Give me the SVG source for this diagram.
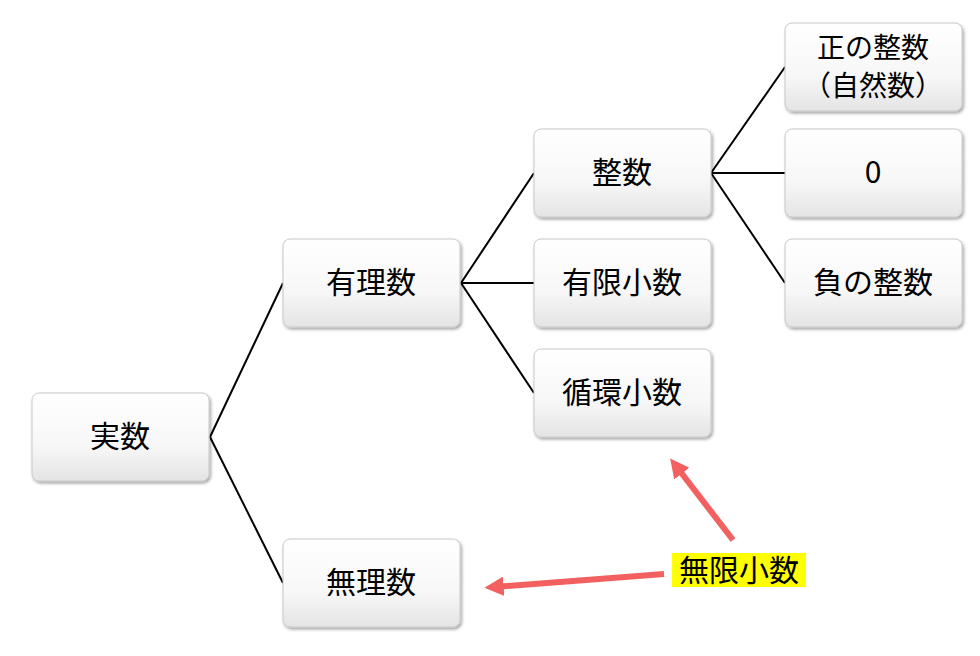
<svg xmlns="http://www.w3.org/2000/svg" width="980" height="656" viewBox="0 0 980 656">
<defs>
<linearGradient id="g" x1="0" y1="0" x2="0" y2="1"><stop offset="0" stop-color="#ffffff"/><stop offset="0.6" stop-color="#f7f7f7"/><stop offset="1" stop-color="#e4e4e4"/></linearGradient>
<filter id="s" x="-10%" y="-10%" width="130%" height="130%"><feDropShadow dx="1.5" dy="2" stdDeviation="1.5" flood-color="#000" flood-opacity="0.35"/></filter>
<marker id="a" viewBox="0 0 10 10" refX="5" refY="5" markerWidth="3.2" markerHeight="3.2" orient="auto"><path d="M0,0 L10,5 L0,10 z" fill="#F26060"/></marker>
<style>
.b{fill:url(#g);stroke:#c8c8c8;stroke-width:1;filter:url(#s)}
.t{font-family:"Noto Sans CJK JP",sans-serif;font-size:30px;text-anchor:middle;dominant-baseline:central;fill:#000}
.c{stroke:#000;stroke-width:2;fill:none}
.r{stroke:#F26060;stroke-width:6;fill:none;marker-end:url(#a)}
</style>
</defs>
<g id="connectors">
<path class="c" d="M210,437 L283,283 M210,437 L283,583 M461,283 L534,173 M461,283 L534,283 M461,283 L534,393 M711,173 L785,67 M711,173 L785,173 M711,173 L785,283"/>
<path class="r" d="M733,540 L676,466"/>
<path class="r" d="M664,574 L494,587"/>
</g>
<g id="n1"><rect class="b" x="32" y="393" width="177" height="88" rx="7"/><text class="t" x="120" y="434">実数</text></g>
<g id="n2"><rect class="b" x="283" y="239" width="177" height="88" rx="7"/><text class="t" x="371" y="280">有理数</text></g>
<g id="n3"><rect class="b" x="283" y="539" width="177" height="88" rx="7"/><text class="t" x="371" y="580">無理数</text></g>
<g id="n4"><rect class="b" x="534" y="129" width="177" height="88" rx="7"/><text class="t" x="622" y="170">整数</text></g>
<g id="n5"><rect class="b" x="534" y="239" width="177" height="88" rx="7"/><text class="t" x="622" y="280">有限小数</text></g>
<g id="n6"><rect class="b" x="534" y="349" width="177" height="88" rx="7"/><text class="t" x="622" y="390">循環小数</text></g>
<g id="n7"><rect class="b" x="785" y="23" width="177" height="88" rx="7"/><text class="t" x="873" y="46" style="font-size:28px">正の整数</text><text class="t" x="873" y="84" style="font-size:28px">（自然数）</text></g>
<g id="n8"><rect class="b" x="785" y="129" width="177" height="88" rx="7"/><text class="t" x="873" y="170">0</text></g>
<g id="n9"><rect class="b" x="785" y="239" width="177" height="88" rx="7"/><text class="t" x="873" y="280">負の整数</text></g>
<g id="label"><rect x="672" y="553" width="134" height="34" fill="#FFFF00"/><text class="t" x="739" y="568">無限小数</text></g>
</svg>
